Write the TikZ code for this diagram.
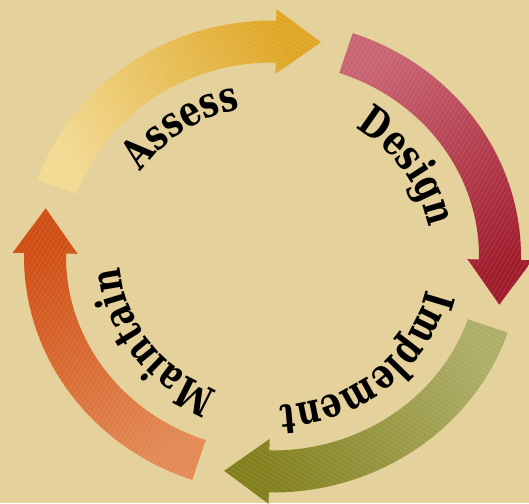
\documentclass[tikz,border=0pt]{standalone}
\usepackage{fontspec}
\newfontfamily\labelfont{DejaVu Serif}[FakeStretch=0.78]
\usetikzlibrary{decorations.text}

\definecolor{bg}{HTML}{E5D19C}
\definecolor{assessA}{HTML}{F2DA92}
\definecolor{assessB}{HTML}{DFA624}
\definecolor{designA}{HTML}{C96473}
\definecolor{designB}{HTML}{A01C2C}
\definecolor{implA}{HTML}{ADAE68}
\definecolor{implB}{HTML}{82801C}
\definecolor{maintA}{HTML}{E38A55}
\definecolor{maintB}{HTML}{CF4E14}

% ring geometry (centre, mid radii, half body width, half head width, head length)
\def\cx{272.5}
\def\cy{246.5}
\def\rx{227.5}
\def\ry{215}
\def\hw{21}
\def\hh{32.5}
\def\hl{45}

\tikzset{
  stripe/.style={white, opacity=0.11, line width=0.7pt},
  ringlabel/.style={decorate, decoration={text along path, text align=center,
      text={|\fontsize{42}{50}\selectfont\labelfont\bfseries|#1}}},
}

% #1 head angle, #2 tail colour, #3 head colour, #4 shading angle, #5 stripe angle
\newcommand{\cyclearrow}[5]{%
  \pgfmathsetmacro{\ta}{#1+72}%
  \pgfmathsetmacro{\orx}{\rx+\hw}\pgfmathsetmacro{\ory}{\ry+\hw}%
  \pgfmathsetmacro{\irx}{\rx-\hw}\pgfmathsetmacro{\iry}{\ry-\hw}%
  \path[bottom color=#2, top color=#3, shading angle=#4,
        path picture={
          \begin{scope}[shift={(path picture bounding box.center)}, rotate=#5]
            \foreach \k in {-75,...,75} \draw[stripe] (-320,\k*4) -- (320,\k*4);
          \end{scope}}]
    ({\cx+\orx*cos(\ta)},{\cy+\ory*sin(\ta)})
    arc[start angle=\ta, end angle=#1, x radius=\orx, y radius=\ory]
    -- ({\cx+(\rx+\hh)*cos(#1)},{\cy+(\ry+\hh)*sin(#1)})
    -- ({\cx+\rx*cos(#1)+\hl*sin(#1)},{\cy+\ry*sin(#1)-\hl*cos(#1)})
    -- ({\cx+(\rx-\hh)*cos(#1)},{\cy+(\ry-\hh)*sin(#1)})
    -- ({\cx+\irx*cos(#1)},{\cy+\iry*sin(#1)})
    arc[start angle=#1, end angle=\ta, x radius=\irx, y radius=\iry]
    -- cycle;
}

% #1 centre angle, #2 radius factor, #3 text
\newcommand{\ringtext}[3]{%
  \pgfmathsetmacro{\sa}{#1+60}\pgfmathsetmacro{\ea}{#1-60}%
  \pgfmathsetmacro{\tx}{#2*\rx}\pgfmathsetmacro{\ty}{#2*\ry}%
  \path[ringlabel={#3}]
    ({\cx+\tx*cos(\sa)},{\cy+\ty*sin(\sa)})
    arc[start angle=\sa, end angle=\ea, x radius=\tx, y radius=\ty];
}

\begin{document}
\begin{tikzpicture}[x=1pt, y=1pt]
  \fill[bg] (0,0) rectangle (529,503);
  \useasboundingbox (0,0) rectangle (529,503);

  % the four arrows of the cycle, clockwise
  \cyclearrow{89.15}{assessA}{assessB}{-61}{150}
  \cyclearrow{-0.85}{designA}{designB}{-148}{60}
  \cyclearrow{-90.85}{implA}{implB}{119}{-30}
  \cyclearrow{179.15}{maintA}{maintB}{32}{60}

  % labels set along the inside of the ring
  \ringtext{124.6}{0.70}{Assess}
  \ringtext{34}{0.70}{Design}
  \ringtext{-49.5}{0.695}{Implement}
  \ringtext{215.8}{0.67}{Maintain}
\end{tikzpicture}
\end{document}
